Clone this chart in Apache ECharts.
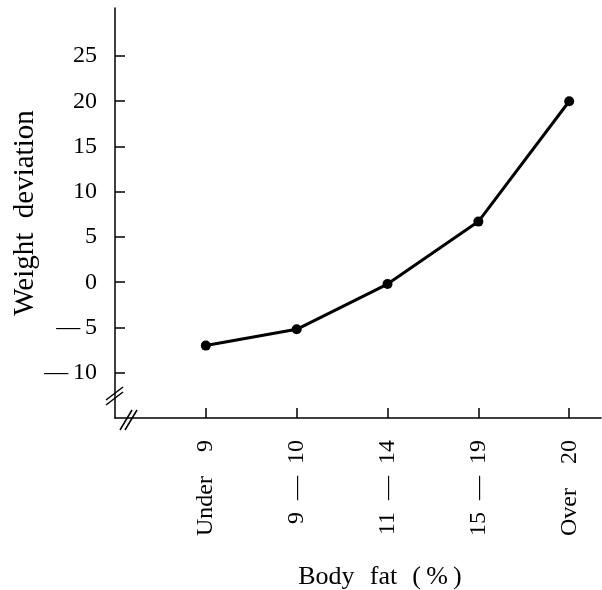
<!DOCTYPE html>
<html><head><meta charset="utf-8">
<script src="https://cdn.jsdelivr.net/npm/echarts@6/dist/echarts.min.js"></script>
<style>html,body{margin:0;padding:0;background:#fff}#c{width:602px;height:590px}</style>
</head><body><div id="c"></div>
<script>
const categories = ['Under\u20039', '9\u2002\u2014\u200210', '11\u2002\u2014\u200214', '15\u2002\u2014\u200219', 'Over\u200320'];
const weightDeviation = [-7.0, -5.2, -0.2, 6.7, 20.0];
const yTicks = [-10, -5, 0, 5, 10, 15, 20, 25];
const xTicks = [0, 1, 2, 3, 4];

const F = 'Liberation Serif';
const chart = echarts.init(document.getElementById('c'), null, {renderer: 'canvas'});
const ink = '#000';
chart.setOption({
  animation: false,
  backgroundColor: '#fff',
  grid: {left: 115, right: 1, top: 8, bottom: 172, containLabel: false, outerBoundsMode: 'none'},
  xAxis: {
    type: 'value', min: -1, max: 4.35, interval: 1,
    name: 'Body\u2002\u200afat\u2002\u200a(\u2009%\u2009)', nameLocation: 'middle', nameGap: 146,
    nameMoveOverlap: false,
    nameTextStyle: {fontFamily: F, fontSize: 26, color: ink, padding: [0, 0, 0, 44]},
    axisLine: {show: true, onZero: false, lineStyle: {color: ink, width: 1.5}},
    axisTick: {show: true, inside: true, length: 10, customValues: xTicks, lineStyle: {color: ink, width: 1.5}},
    axisLabel: {show: true, customValues: xTicks, rotate: 90, margin: 22, fontFamily: F, fontSize: 24, color: ink,
      formatter: v => categories[Math.round(v)] || ''},
    splitLine: {show: false}
  },
  yAxis: {
    type: 'value', min: -15, max: 30.3, interval: 5,
    name: 'Weight\u2002deviation', nameLocation: 'middle', nameGap: 75, nameRotate: 90,
    nameMoveOverlap: false,
    nameTextStyle: {fontFamily: F, fontSize: 29, color: ink},
    axisLine: {show: true, onZero: false, lineStyle: {color: ink, width: 1.5}},
    axisTick: {show: true, inside: true, length: 10, customValues: yTicks, lineStyle: {color: ink, width: 1.5}},
    axisLabel: {show: true, customValues: yTicks, margin: 18, fontFamily: F, fontSize: 24, color: ink,
      formatter: v => v < 0 ? '\u2014\u2009' + Math.abs(v) : String(v)},
    splitLine: {show: false}
  },
  series: [{
    type: 'line',
    data: weightDeviation.map((v, i) => [i, v]),
    symbol: 'circle', symbolSize: 10,
    itemStyle: {color: ink},
    lineStyle: {color: ink, width: 3}
  }],
  graphic: [
    {type: 'line', shape: {x1: 106, y1: 400, x2: 123, y2: 387}, style: {stroke: ink, lineWidth: 1.5}},
    {type: 'line', shape: {x1: 106, y1: 405, x2: 123, y2: 392}, style: {stroke: ink, lineWidth: 1.5}},
    {type: 'line', shape: {x1: 120, y1: 430, x2: 132, y2: 410}, style: {stroke: ink, lineWidth: 1.5}},
    {type: 'line', shape: {x1: 125, y1: 430, x2: 137, y2: 410}, style: {stroke: ink, lineWidth: 1.5}}
  ]
});
</script></body></html>
